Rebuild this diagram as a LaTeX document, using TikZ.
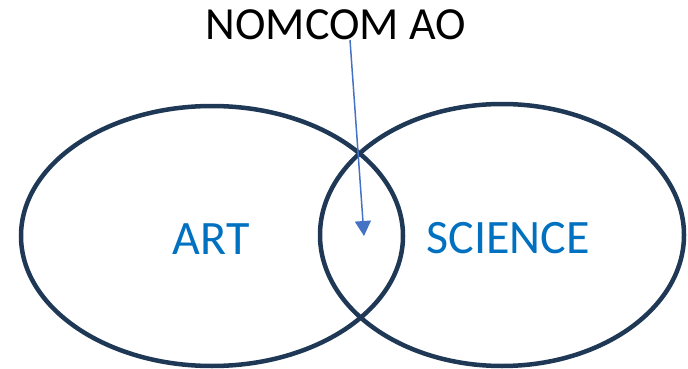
\documentclass[tikz,border=0pt]{standalone}
\usepackage{fontspec}
\setmainfont{Carlito}
\usetikzlibrary{arrows.meta}
\definecolor{ringc}{RGB}{31,56,86}
\definecolor{labc}{RGB}{0,112,192}
\definecolor{arrc}{RGB}{68,114,196}
\tikzset{
  ring/.style={draw=ringc, line width=4.5pt},
  lab/.style={text=labc, font=\fontsize{48}{52}\selectfont, inner sep=0pt, anchor=base},
  ttl/.style={text=black, font=\fontsize{46}{50}\selectfont, inner sep=0pt, anchor=base},
  pointer/.style={draw=arrc, line width=1.5pt, -{Triangle[width=16pt,length=15pt]}}
}
\begin{document}
\begin{tikzpicture}[x=1pt,y=-1pt]
\useasboundingbox (0,0) rectangle (688,369);
\draw[ring] (212,236) ellipse [x radius=191, y radius=130];
\draw[ring] (502,235) ellipse [x radius=182, y radius=131];
\node[ttl] (title) at (336,40) {NOMCOM AO};
\node[lab] (art) at (211,254) {ART};
\node[lab] (sci) at (508,253) {SCIENCE};
\coordinate (start) at (350,40);
\coordinate (tip) at (364,236);
\draw[pointer] (start) -- (tip);
\end{tikzpicture}
\end{document}
